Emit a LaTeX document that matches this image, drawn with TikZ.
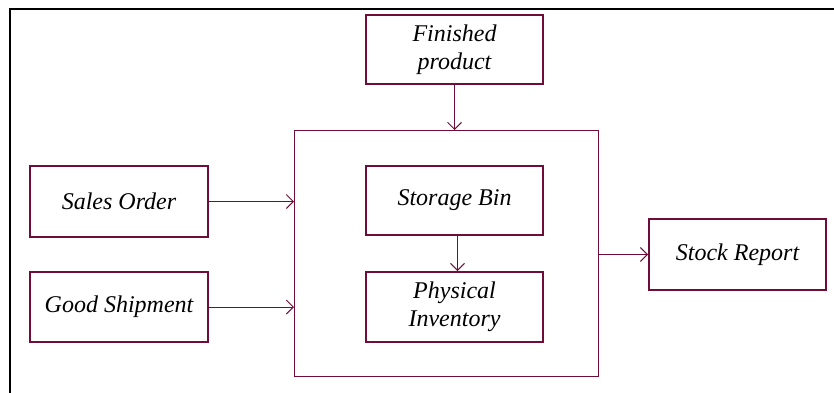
\documentclass[tikz,border=0pt]{standalone}
\usepackage{fontspec}
\setmainfont{Liberation Serif}
\usetikzlibrary{arrows.meta}
\definecolor{maroon}{RGB}{110,14,56}
\begin{document}
\begin{tikzpicture}[x=1pt,y=-1pt,
  box/.style={draw=maroon, line width=2pt, inner sep=0pt, anchor=north west,
    font=\fontsize{24}{28}\selectfont\itshape, align=center},
  link/.style={draw=maroon, line width=1pt,
    -{Straight Barb[length=7pt,width=14pt,line width=1pt]}}]
  \useasboundingbox (0,0) rectangle (834,392);
  % frame edges along the top and left
  \draw[line width=2.5pt, line cap=rect] (10,392) -- (10,9) -- (834,9);
  % central area
  \node[draw=maroon, line width=1pt, minimum width=304pt, minimum height=246pt,
        inner sep=0pt, anchor=north west] (area) at (294,130) {};
  % boxes
  \node[box, minimum width=177pt, minimum height=69pt] (fin) at (365,14) {Finished\\product};
  \node[box, minimum width=178pt, minimum height=71pt] (sales) at (29,165) {Sales Order};
  \node[box, minimum width=178pt, minimum height=70pt] (ship) at (29,271) {Good Shipment};
  \node[box, minimum width=177pt, minimum height=71pt] (stock) at (648,218) {Stock Report};
  \node[box, minimum width=177pt, minimum height=69pt] (bin) at (365,165) {Storage Bin};
  \node[box, minimum width=177pt, minimum height=70pt] (phys) at (365,271) {Physical\\Inventory};
  % connectors
  \draw[link] (fin.south) -- (fin.south |- area.north);
  \draw[link] (sales.east) -- (sales.east -| area.west);
  \draw[link] (ship.east) -- (ship.east -| area.west);
  \draw[link] (stock.west -| area.east) -- (stock.west);
  \draw[link] ([xshift=3pt]bin.south) -- ([xshift=3pt]phys.north);
\end{tikzpicture}
\end{document}
